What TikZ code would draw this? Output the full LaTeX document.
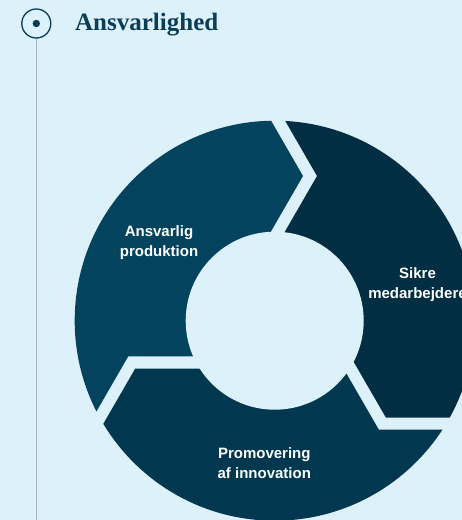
\documentclass[tikz,border=0pt]{standalone}
\usepackage{fontspec}
\setmainfont{Liberation Serif}
\newfontfamily\labelfont{Liberation Sans}
\definecolor{bgblue}{HTML}{DCF1FA}
\definecolor{ringlight}{HTML}{03435E}
\definecolor{ringdark}{HTML}{012E42}
\definecolor{ringmid}{HTML}{02384F}
\definecolor{headblue}{HTML}{0B3C58}
\definecolor{linegray}{HTML}{A9B5BC}

\begin{document}
\begin{tikzpicture}[x=1pt,y=1pt,
	seglabel/.style={text=white,align=center,font=\labelfont\bfseries\fontsize{15}{20}\selectfont},
	bulletring/.style={circle,draw=headblue,line width=1.3pt,minimum size=29pt,inner sep=0pt}]
	% page
	\clip (-274.7,-199.3) rectangle (187.3,320.7);
	\fill[bgblue] (-274.7,-199.3) rectangle (187.3,320.7);
	% corners of the three gaps
	\foreach \g/\r in {1/0,2/-120,3/120}{
		\scope[rotate=\r]
		\coordinate (tip\g) at (28.3,144.7);
		\coordinate (tip\g-out) at (-11.7,214);
		\coordinate (tip\g-in) at (-11.7,75.4);
		\coordinate (tip\g-far) at (-11.7,500);
		\coordinate (notch\g) at (42.3,144.7);
		\coordinate (notch\g-out) at (2.3,214);
		\coordinate (notch\g-in) at (2.3,75.4);
		\coordinate (notch\g-far) at (2.3,500);
		\endscope
	}
	% ring
	\scope
	\clip (0,0) circle (200);
	\fill[ringlight] (0,0) -- (notch3-in) -- (notch3) -- (notch3-out) -- (notch3-far)
	-- (150:600) -- (tip1-far) -- (tip1-out) -- (tip1) -- (tip1-in) -- cycle;
	\fill[ringdark] (0,0) -- (notch1-in) -- (notch1) -- (notch1-out) -- (notch1-far)
	-- (30:600) -- (tip2-far) -- (tip2-out) -- (tip2) -- (tip2-in) -- cycle;
	\fill[ringmid] (0,0) -- (notch2-in) -- (notch2) -- (notch2-out) -- (notch2-far)
	-- (-90:600) -- (tip3-far) -- (tip3-out) -- (tip3) -- (tip3-in) -- cycle;
	\endscope
	\fill[bgblue] (0,0) circle (89);
	% labels
	\node[seglabel] (prod) at (-115.7,77.7) {Ansvarlig\\produktion};
	\node[seglabel] (staff) at (142.8,35.9) {Sikre\\medarbejdere};
	\node[seglabel] (innov) at (-10.4,-142) {Promovering\\af innovation};
	% heading
	\node[anchor=base west,inner sep=0pt,text=headblue,font=\bfseries\fontsize{25}{30}\selectfont] (title) at (-199.7,289.7) {Ansvarlighed};
	\node[bulletring] (bullet) at (-238.4,297.2) {};
	\fill[headblue] (bullet.center) circle (3.7);
	\coordinate (rail) at (-238.4,-199.3);
	\draw[linegray,line width=1pt] (bullet.south) -- (rail);
\end{tikzpicture}
\end{document}
